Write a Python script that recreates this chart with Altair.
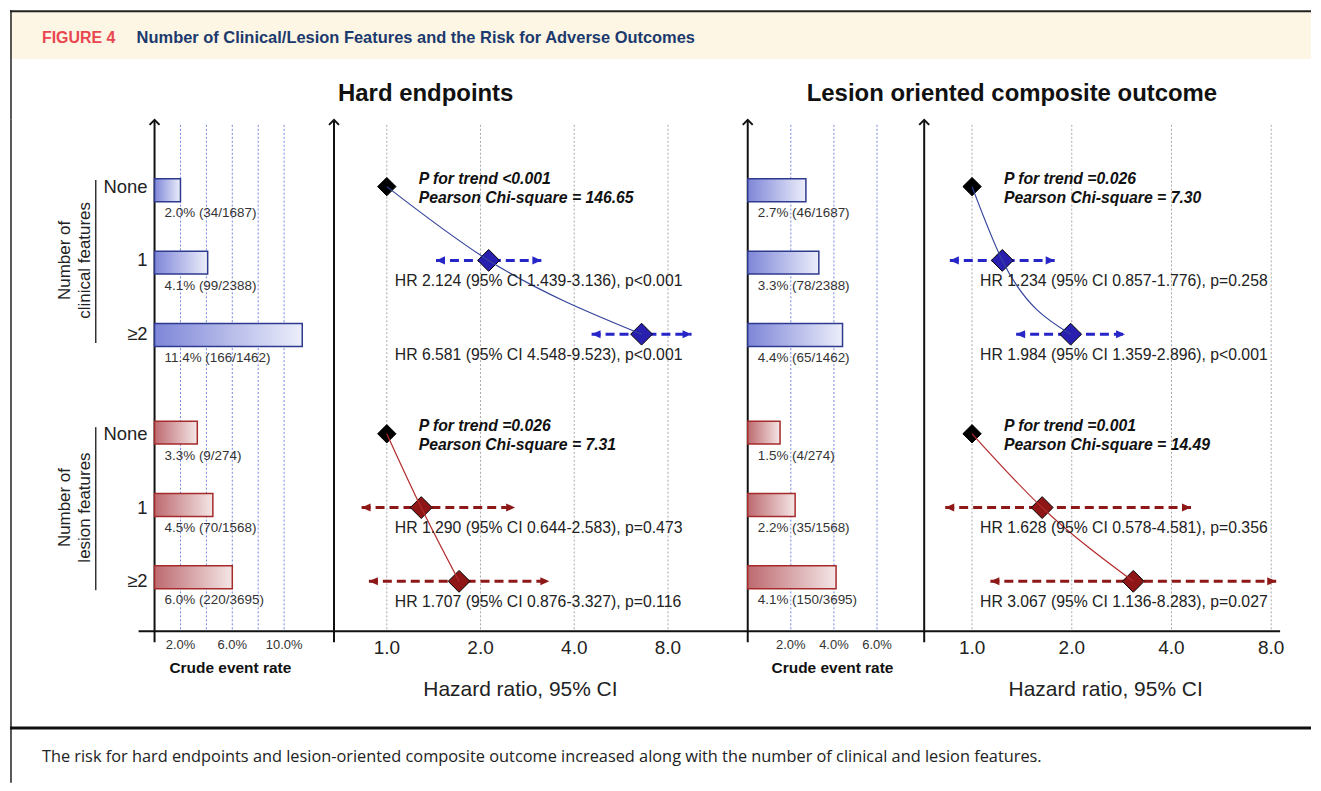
import altair as alt
import pandas as pd

# ---------------- data ----------------
levels = ["None", "1", "≥2"]
group_labels = ["Number of\nclinical features", "Number of\nlesion features"]

# Hard endpoints
hard_rate = [2.0, 4.1, 11.4, 3.3, 4.5, 6.0]
hard_counts = ["34/1687", "99/2388", "166/1462", "9/274", "70/1568", "220/3695"]
hard_hr = [1.0, 2.124, 6.581, 1.0, 1.290, 1.707]
hard_lo = [None, 1.439, 4.548, None, 0.644, 0.876]
hard_hi = [None, 3.136, 9.523, None, 2.583, 3.327]
hard_p = [None, "p<0.001", "p<0.001", None, "p=0.473", "p=0.116"]
hard_trend_p = ["<0.001", "=0.026"]
hard_chi2 = ["146.65", "7.31"]

# Lesion oriented composite outcome
loc_rate = [2.7, 3.3, 4.4, 1.5, 2.2, 4.1]
loc_counts = ["46/1687", "78/2388", "65/1462", "4/274", "35/1568", "150/3695"]
loc_hr = [1.0, 1.234, 1.984, 1.0, 1.628, 3.067]
loc_lo = [None, 0.857, 1.359, None, 0.578, 1.136]
loc_hi = [None, 1.776, 2.896, None, 4.581, 8.283]
loc_p = [None, "p=0.258", "p<0.001", None, "p=0.356", "p=0.027"]
loc_trend_p = ["=0.026", "=0.001"]
loc_chi2 = ["7.30", "14.49"]

hard_rate_grid = [2, 4, 6, 8, 10]
hard_rate_ticks = [2, 6, 10]
loc_rate_grid = [2, 4, 6]
loc_rate_ticks = [2, 4, 6]
hr_ticks = [1.0, 2.0, 4.0, 8.0]

fig_label = "FIGURE 4"
fig_title = "Number of Clinical/Lesion Features and the Risk for Adverse Outcomes"
panel_titles = ["Hard endpoints", "Lesion oriented composite outcome"]
rate_axis_title = "Crude event rate"
hr_axis_title = "Hazard ratio, 95% CI"
caption = ("The risk for hard endpoints and lesion-oriented composite outcome increased "
           "along with the number of clinical and lesion features.")

# ---------------- layout / style ----------------
FONT = "Liberation Sans, Arial, sans-serif"
W = 1305
HEAD_H = 110
PH = 513
CAP_H = 152
LAB_W, P1_W, P2_W, P3_W, P4_W = 145, 180, 415, 177, 360
GROUP_GAP = 3.35
Y_DOMAIN = [-0.905, 6.027]
CI_FLOOR = 0.83
AX = "#111111"
GRID_BLUE = "#7384E0"
GRID_GRAY = "#A8A8A8"
CREAM = "#FDF6E4"
DASH = ["#2626C8", "#8E1818"]
DIA = ["#2A20B0", "#8E1616"]
LINE = ["#34449A", "#B22A2A"]
BAR_STROKE = ["#2E3A8E", "#A52A2A"]
BAR_GRAD = [
    alt.Gradient(gradient="linear", x1=0, x2=1, y1=0, y2=0,
                 stops=[alt.GradientStop(color="#7E86D8", offset=0),
                        alt.GradientStop(color="#ECEEFA", offset=1)]),
    alt.Gradient(gradient="linear", x1=0, x2=1, y1=0, y2=0,
                 stops=[alt.GradientStop(color="#BD6A70", offset=0),
                        alt.GradientStop(color="#F4E6E6", offset=1)]),
]
SLOT_EXPR = f"datum.g * {GROUP_GAP} + datum.i"
ONE = pd.DataFrame({"k": [0]})


def rows_frame(rate, counts, hr, lo, hi, p):
    recs = []
    for k in range(6):
        g, i = divmod(k, 3)
        has_ci = lo[k] is not None
        recs.append({
            "g": g, "i": i, "level": levels[i],
            "rate": rate[k], "hr": hr[k], "ref": hr[g * 3],
            "lo": lo[k], "hi": hi[k],
            "bar_label": f"{rate[k]:.1f}% ({counts[k]})",
            "hr_label": (f"HR {hr[k]:.3f} (95% CI {lo[k]:.3f}-{hi[k]:.3f}), {p[k]}" if has_ci else ""),
        })
    return pd.DataFrame(recs)


def yenc(field="slot:Q"):
    return alt.Y(field, scale=alt.Scale(domain=Y_DOMAIN, reverse=True, nice=False, zero=False), axis=None)


def axes(x0, x1):
    one = alt.Chart(ONE)
    return [
        one.mark_rule(color=AX, strokeWidth=2).encode(x=alt.value(0), y=alt.value(1), y2=alt.value(PH + 11)),
        one.mark_rule(color=AX, strokeWidth=2).encode(x=alt.value(x0), x2=alt.value(x1), y=alt.value(PH)),
        one.mark_point(shape="M-1,1L0,0L1,1", size=100, filled=False, color=AX,
                       strokeWidth=2, opacity=1).encode(x=alt.value(0), y=alt.value(0)),
    ]


def bar_panel(df, width, xmax, grid_vals, tick_vals, title_x, haxis_x0):
    xs = alt.Scale(domain=[0, xmax], nice=False, zero=False)

    def xe(f):
        return alt.X(f, scale=xs, axis=None)

    layers = [
        alt.Chart(pd.DataFrame({"t": grid_vals})).mark_rule(
            color=GRID_BLUE, strokeWidth=1, strokeDash=[2, 2]
        ).encode(x=xe("t:Q"), y=alt.value(5), y2=alt.value(PH)),
        alt.Chart(pd.DataFrame({"t": tick_vals})).transform_calculate(
            lbl="format(datum.t, '.1f') + '%'"
        ).mark_text(fontSize=13, color="#333", baseline="middle").encode(
            x=xe("t:Q"), y=alt.value(PH + 14), text="lbl:N"),
        alt.Chart(pd.DataFrame({"t": [rate_axis_title]})).mark_text(
            fontSize=15.5, fontWeight="bold", color="#111", baseline="middle"
        ).encode(x=alt.value(title_x), y=alt.value(PH + 37), text="t:N"),
    ]
    layers += axes(haxis_x0, width)
    base = alt.Chart(df).transform_calculate(slot=SLOT_EXPR)
    for g in (0, 1):
        layers.append(
            base.transform_filter(f"datum.g == {g}").mark_bar(
                orient="horizontal", size=23, fill=BAR_GRAD[g], stroke=BAR_STROKE[g], strokeWidth=1.5
            ).encode(x=xe("rate:Q"), x2=alt.datum(0), y=yenc())
        )
    layers.append(
        base.mark_text(align="left", baseline="middle", fontSize=13.5, color="#333", dy=23).encode(
            x=alt.value(10), y=yenc(), text="bar_label:N")
    )
    return alt.layer(*layers).properties(width=width, height=PH)


def hr_panel(df, trend_p, chi2, width, dom, title_x, haxis_x1):
    xs = alt.Scale(type="log", domain=dom, nice=False, zero=False)

    def xe(f):
        return alt.X(f, scale=xs, axis=None)

    layers = [
        alt.Chart(pd.DataFrame({"t": hr_ticks})).mark_rule(
            color=GRID_GRAY, strokeWidth=1, strokeDash=[2, 2]
        ).encode(x=xe("t:Q"), y=alt.value(5), y2=alt.value(PH)),
        alt.Chart(pd.DataFrame({"t": hr_ticks})).transform_calculate(
            lbl="format(datum.t, '.1f')"
        ).mark_text(fontSize=19, color="#222", baseline="middle").encode(
            x=xe("t:Q"), y=alt.value(PH + 17), text="lbl:N"),
        alt.Chart(pd.DataFrame({"t": [hr_axis_title]})).mark_text(
            fontSize=21, color="#222", baseline="middle"
        ).encode(x=alt.value(title_x), y=alt.value(PH + 59), text="t:N"),
    ]
    layers += axes(0, haxis_x1)
    base = alt.Chart(df).transform_calculate(slot=SLOT_EXPR, lo_d=f"max(datum.lo, {CI_FLOOR})")
    for g in (0, 1):
        ci = base.transform_filter(f"datum.g == {g} && datum.i > 0")
        layers += [
            ci.mark_rule(color=DASH[g], strokeWidth=3, strokeDash=[9, 5]).encode(
                x=xe("lo_d:Q"), x2="hi:Q", y=yenc()),
            ci.mark_point(shape="M2,-0.9L0,0L2,0.9Z", size=81, filled=True, color=DASH[g], opacity=1).encode(
                x=xe("lo_d:Q"), y=yenc()),
            ci.mark_point(shape="M-2,-0.9L0,0L-2,0.9Z", size=81, filled=True, color=DASH[g], opacity=1).encode(
                x=xe("hi:Q"), y=yenc()),
            ci.mark_point(shape="diamond", size=480, filled=True, fill=DIA[g], stroke="#000",
                          strokeWidth=1, opacity=1).encode(x=xe("hr:Q"), y=yenc()),
        ]
    layers.append(
        base.transform_filter("datum.i == 0").mark_point(
            shape="diamond", size=340, filled=True, fill="#000", stroke="#000", strokeWidth=1, opacity=1
        ).encode(x=xe("hr:Q"), y=yenc())
    )
    for g in (0, 1):
        layers.append(
            base.transform_filter(f"datum.g == {g}").mark_line(
                color=LINE[g], strokeWidth=1.2, interpolate="monotone"
            ).encode(x=xe("hr:Q"), y=yenc(), order="slot:Q")
        )
    layers.append(
        base.transform_filter("datum.i > 0").mark_text(
            align="left", baseline="middle", fontSize=15.8, color="#222", dx=8, dy=21
        ).encode(x=xe("ref:Q"), y=yenc(), text="hr_label:N")
    )
    tdf = pd.DataFrame({
        "g": [0, 1],
        "ref": [df["ref"].iloc[0], df["ref"].iloc[3]],
        "l1": ["P for trend " + s for s in trend_p],
        "l2": ["Pearson Chi-square = " + s for s in chi2],
    })
    tb = alt.Chart(tdf).transform_calculate(slot=f"datum.g * {GROUP_GAP}")
    for field, dy in (("l1", -8), ("l2", 11)):
        layers.append(
            tb.mark_text(align="left", baseline="middle", fontSize=15.8, fontStyle="italic",
                         fontWeight="bold", color="#111", dx=32, dy=dy).encode(
                x=xe("ref:Q"), y=yenc(), text=f"{field}:N")
        )
    return alt.layer(*layers).properties(width=width, height=PH)


hard_df = rows_frame(hard_rate, hard_counts, hard_hr, hard_lo, hard_hi, hard_p)
loc_df = rows_frame(loc_rate, loc_counts, loc_hr, loc_lo, loc_hi, loc_p)

# ---------------- header ----------------
one = alt.Chart(ONE)
header = alt.layer(
    one.mark_rect(fill=CREAM).encode(x=alt.value(0), x2=alt.value(W), y=alt.value(1), y2=alt.value(49)),
    one.mark_rule(color="#222", strokeWidth=2).encode(x=alt.value(0), x2=alt.value(W), y=alt.value(1)),
    one.mark_rule(color="#222", strokeWidth=1.5).encode(x=alt.value(1), y=alt.value(0), y2=alt.value(HEAD_H)),
    alt.Chart(pd.DataFrame({"t": [fig_label]})).mark_text(
        align="left", baseline="middle", fontSize=16, fontWeight="bold", color="#E8474F"
    ).encode(x=alt.value(32), y=alt.value(28), text="t:N"),
    alt.Chart(pd.DataFrame({"t": [fig_title]})).mark_text(
        align="left", baseline="middle", fontSize=16.5, fontWeight="bold", color="#1C3A6E"
    ).encode(x=alt.value(127), y=alt.value(28), text="t:N"),
    alt.Chart(pd.DataFrame({"t": [panel_titles[0]]})).mark_text(
        align="center", baseline="middle", fontSize=24, fontWeight="bold", color="#111"
    ).encode(x=alt.value(417), y=alt.value(84), text="t:N"),
    alt.Chart(pd.DataFrame({"t": [panel_titles[1]]})).mark_text(
        align="center", baseline="middle", fontSize=24, fontWeight="bold", color="#111"
    ).encode(x=alt.value(1005), y=alt.value(84), text="t:N"),
).properties(width=W, height=HEAD_H)

# ---------------- row labels panel (also carries the caption strip) ----------------
lab_base = alt.Chart(hard_df).transform_calculate(slot=SLOT_EXPR)
gdf = pd.DataFrame({"g": [0, 1], "label": group_labels})
gbase = alt.Chart(gdf).transform_calculate(
    slot=f"datum.g * {GROUP_GAP} + 1",
    y0=f"datum.g * {GROUP_GAP} - 0.09",
    y1=f"datum.g * {GROUP_GAP} + 2.12",
)
labels_panel = alt.layer(
    one.mark_rule(color="#222", strokeWidth=1.5).encode(x=alt.value(1), y=alt.value(0), y2=alt.value(PH + CAP_H)),
    one.mark_rule(color="#111", strokeWidth=3).encode(x=alt.value(0), x2=alt.value(W), y=alt.value(PH + 97)),
    alt.Chart(pd.DataFrame({"t": [caption]})).mark_text(
        align="left", baseline="middle", fontSize=16.4, color="#222", font="Open Sans"
    ).encode(x=alt.value(32), y=alt.value(PH + 126), text="t:N"),
    lab_base.mark_text(align="right", baseline="middle", fontSize=18.5, color="#222").encode(
        x=alt.value(138), y=yenc(), text="level:N"),
    gbase.mark_text(align="center", baseline="middle", fontSize=17, color="#222", angle=270,
                    lineBreak="\n", lineHeight=20).encode(x=alt.value(55), y=yenc(), text="label:N"),
    gbase.mark_rule(color="#333", strokeWidth=1.5).encode(x=alt.value(86), y=yenc("y0:Q"), y2="y1:Q"),
).properties(width=LAB_W, height=PH)

p1 = bar_panel(hard_df, P1_W, 13.85, hard_rate_grid, hard_rate_ticks, 76, -16)
p2 = hr_panel(hard_df, hard_trend_p, hard_chi2, P2_W, [0.6767, 14.43], 187, P2_W)
p3 = bar_panel(loc_df, P3_W, 8.19, loc_rate_grid, loc_rate_ticks, 85, 0)
p4 = hr_panel(loc_df, loc_trend_p, loc_chi2, P4_W, [0.717, 8.69], 182, 357)

middle = alt.hconcat(labels_panel, p1, p2, p3, p4, spacing=0, bounds="flush")

chart = alt.vconcat(header, middle, spacing=0, bounds="flush").properties(
    padding=0
).configure_view(strokeWidth=0).configure_text(font=FONT)

chart.save("out.html", embed_options={"renderer": "svg", "actions": False})
